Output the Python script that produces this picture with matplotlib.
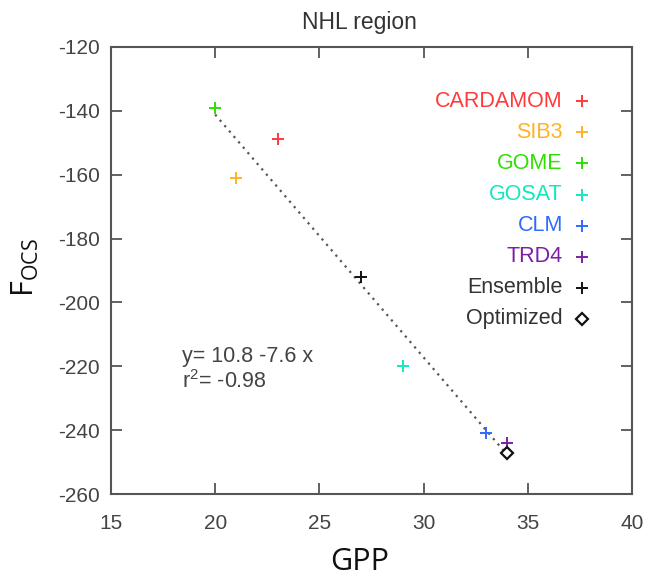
import matplotlib
matplotlib.use("Agg")
import matplotlib.pyplot as plt
import numpy as np

# Data
models = ["CARDAMOM", "SIB3", "GOME", "GOSAT", "CLM", "TRD4", "Ensemble"]
gpp = [23, 21, 20, 29, 33, 34, 27]
focs = [-149, -161, -139, -220, -241, -244, -192]
colors = ["#ff3a3a", "#ffb224", "#2ee000", "#12e8bc", "#2d6bff", "#7d1ea6", "#111111"]
opt_label = "Optimized"
opt_gpp = [34]
opt_focs = [-247]
fit_intercept = 10.8
fit_slope = -7.6
fit_r2 = -0.98
fit_range = [20, 34]
xticks = [15, 20, 25, 30, 35, 40]
yticks = [-260, -240, -220, -200, -180, -160, -140, -120]

plt.rcParams['font.family'] = ['Liberation Sans', 'DejaVu Sans']
plt.rcParams['axes.unicode_minus'] = False

fig = plt.figure(figsize=(6.45, 5.78), dpi=100)
ax = fig.add_axes([0.172, 0.145, 0.808, 0.774])

gray = "#555555"
# regression line
xf = np.array(fit_range, dtype=float)
ax.plot(xf, fit_intercept + fit_slope * xf, linestyle=(0, (1, 2.2)), color="#555555",
        lw=1.6, zorder=2)

# points
for g, f, c in zip(gpp, focs, colors):
    ax.plot([g], [f], marker='+', ms=9, mew=1.4, color=c, linestyle='none', zorder=3)
ax.plot(opt_gpp, opt_focs, marker='D', ms=6, mew=1.6, mfc='none', mec='#111111',
        linestyle='none', zorder=3)

ax.set_xlim(15, 40)
ax.set_ylim(-260, -120)
ax.set_xticks(xticks)
ax.set_yticks(yticks)
ax.tick_params(direction='in', length=8, width=1.3, color=gray, top=True, right=True,
               labelsize=15, labelcolor='#444444', pad=8)
ax.tick_params(axis='x', pad=14)
for s in ax.spines.values():
    s.set_color(gray)
    s.set_linewidth(1.5)

# legend (manual, right-aligned text with marker)
y0 = 0.878
dy = 0.0694
labels = models + [opt_label]
for i, lab in enumerate(labels):
    yy = y0 - i * dy
    c = colors[i] if i < len(colors) else "#111111"
    tc = c if i < len(models) - 1 else "#333333"
    ax.text(0.867, yy, lab, transform=ax.transAxes, ha='right', va='center',
            fontsize=15.5, color=tc)
    if i < len(colors):
        ax.plot([0.903], [yy], transform=ax.transAxes, marker='+', ms=9, mew=1.4,
                color=c, linestyle='none', clip_on=False)
    else:
        ax.plot([0.903], [yy], transform=ax.transAxes, marker='D', ms=6, mew=1.6,
                mfc='none', mec='#111111', linestyle='none', clip_on=False)

# fit text
tx = (181.7 - 111) / 521
ax.text(tx, 1 - (356.7 - 47) / 447,
        f"y= {fit_intercept} {fit_slope} x", transform=ax.transAxes,
        ha='left', va='center', fontsize=15.5, color='#444444')
ax.text(tx, 1 - (381.7 - 47) / 447,
        r"r$^{\mathregular{2}}$= " + f"{fit_r2}", transform=ax.transAxes,
        ha='left', va='center', fontsize=15.5, color='#444444')

# title and axis labels
fig.text(359 / 645, 1 - 22 / 578, "NHL region", ha='center', va='center',
         fontsize=16.5, color='#333333')
fig.text(360 / 645, 1 - 562 / 578, "GPP", ha='center', va='center',
         fontsize=22, color='#111111', family=['Open Sans', 'DejaVu Sans'])
fig.text(25 / 645, 1 - 268 / 578, r"F$_{\mathregular{OCS}}$", ha='center', va='center',
         rotation=90, fontsize=22, color='#111111', family=['Open Sans', 'DejaVu Sans'])

fig.savefig("out.png", dpi=100)
